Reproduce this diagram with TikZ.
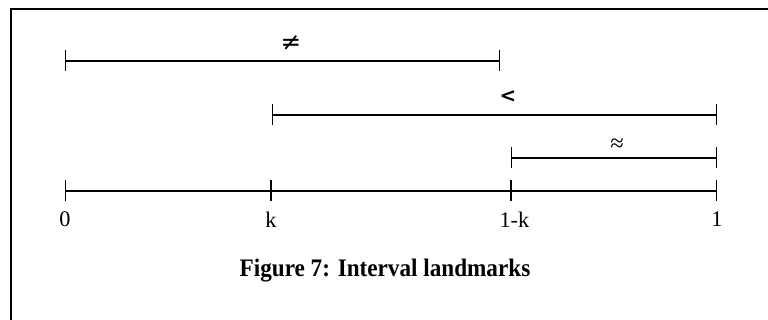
\documentclass[tikz,border=0pt]{standalone}
\usepackage{fontspec}
\setmainfont{Liberation Serif}
\newfontfamily\symfont{DejaVu Sans}
\usetikzlibrary{arrows.meta, positioning}
\tikzstyle{interval} = [line width=0.9pt, {Bar[width=0.63cm,line width=0.8pt]}-{Bar[width=0.63cm,line width=0.8pt]}]
\tikzstyle{relation} = [inner sep=0pt, font=\symfont\fontsize{21}{24}\selectfont]
\tikzstyle{point} = [inner sep=0pt, font=\fontsize{19}{22}\selectfont]
\tikzstyle{caption} = [inner sep=0pt, font=\bfseries\fontsize{21.5}{25}\selectfont]
\tikzstyle{frame} = [line width=1.7pt]

\begin{document}
\begin{tikzpicture}[x=0.03cm, y=0.03cm]
    \useasboundingbox (0,0) rectangle (768,320);
    \draw [frame] (11,-10) -- (11,311) -- (780,311);

    % the unit interval
    \coordinate (p0) at (65,129);
    \coordinate (pk) at (271,129);
    \coordinate (pnk) at (511,129);
    \coordinate (p1) at (717,129);
    \draw [interval] (p0) -- (pk);
    \draw [interval] (pk) -- (pnk);
    \draw [interval] (pnk) -- (p1);
    \node (l0) [point, below=0.62cm of p0] {0};
    \node (lk) [point, below=0.62cm of pk] {k};
    \node (lnk) [point, below=0.62cm of pnk, xshift=0.1cm] {1-k};
    \node (l1) [point, below=0.62cm of p1] {1};

    % landmarks
    \coordinate (a0) at (65,259);
    \coordinate (a1) at (500,259);
    \coordinate (b0) at (272,205);
    \coordinate (b1) at (717,205);
    \coordinate (c0) at (511,162);
    \coordinate (c1) at (717,162);
    \draw [interval] (a0) -- (a1);
    \draw [interval] (b0) -- (b1);
    \draw [interval] (c0) -- (c1);
    \node (neq) [relation] at (291,277) {≠};
    \node (less) [relation, font=\symfont\bfseries\fontsize{17}{20}\selectfont] at (508,223) {<};
    \node (approx) [relation, font=\fontsize{21}{24}\selectfont] at (617,175) {≈};

    \node (cap) [caption] at (385,49) {\scalebox{0.92}[1]{Figure 7: Interval landmarks}};
\end{tikzpicture}
\end{document}
